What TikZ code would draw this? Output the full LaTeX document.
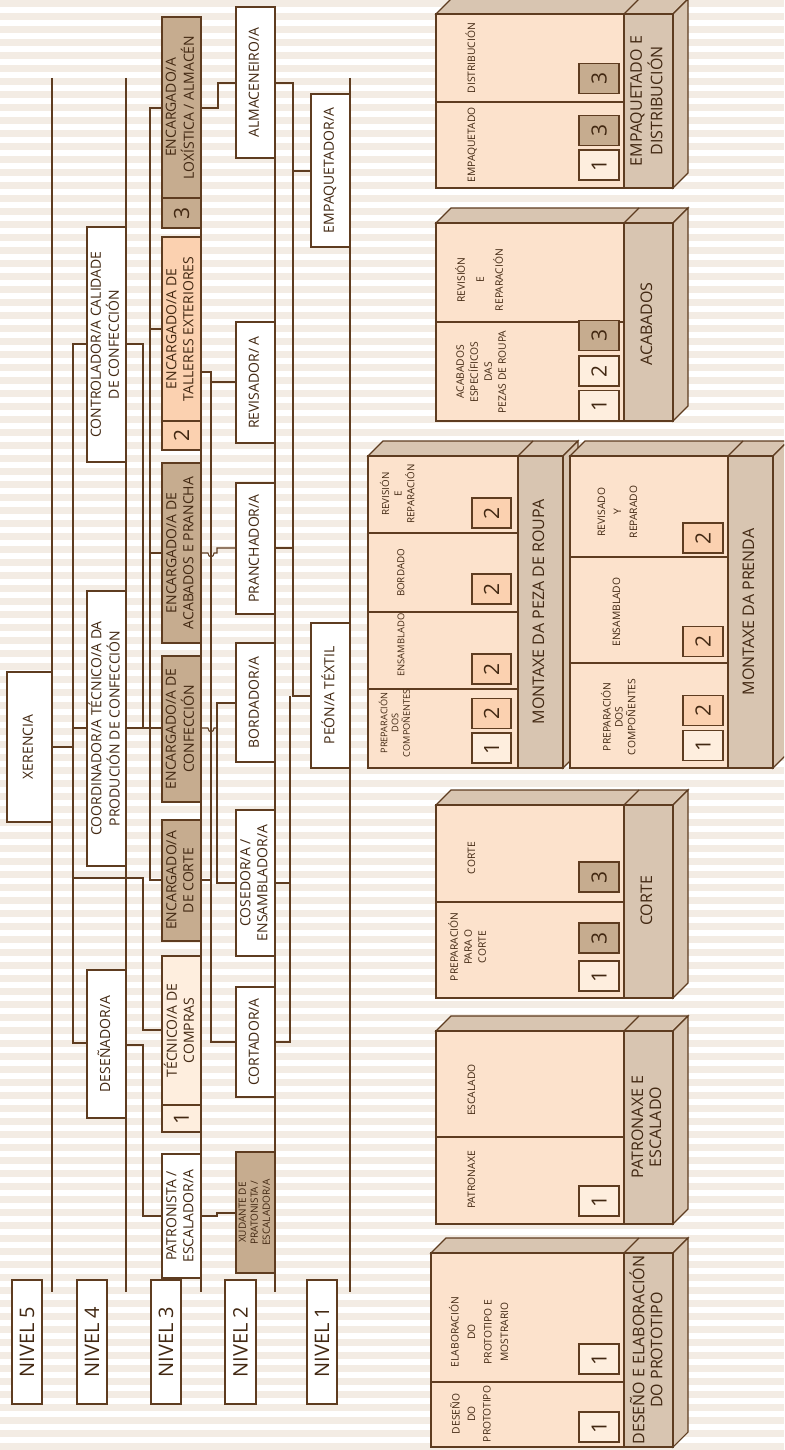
\documentclass[tikz,border=0pt]{standalone}
\usepackage{fontspec}
\setmainfont{Open Sans}
\usepackage{graphicx}
\definecolor{cLine}{RGB}{94,60,32}
\definecolor{cText}{RGB}{66,40,18}
\definecolor{cTan}{RGB}{198,172,143}
\definecolor{cPeach}{RGB}{251,209,176}
\definecolor{cLight}{RGB}{254,238,222}
\definecolor{cPanel}{RGB}{252,226,204}
\definecolor{cSide}{RGB}{216,197,177}
\definecolor{cStripe}{RGB}{243,236,228}
\newcommand{\rtxt}[1]{\rotatebox{90}{\begin{tabular}{@{}c@{}}#1\end{tabular}}}
\newcommand{\rn}[1]{\rotatebox{90}{#1}}
\newcommand{\numfont}{\fontsize{21}{21}\selectfont}
\newcommand{\obox}[7]{\node[#6, minimum width={#4-#2}, minimum height={#5-#3}] (#1) at ({(#2+#4)/2},{(#3+#5)/2}) {#7};}
\newcommand{\pbox}[5]{%
  \filldraw[pb, fill=cSide] (#1,#2) -- ({#1+15},{#2-15}) -- ({#3+15},{#2-15}) -- (#3,#2) -- cycle;
  \filldraw[pb, fill=cSide] (#3,#2) -- ({#3+15},{#2-15}) -- ({#3+15},{#4-15}) -- (#3,#4) -- cycle;
  \draw[pb] (#5,#2) -- ({#5+15},{#2-15});
  \filldraw[pb, fill=cPanel] (#1,#2) rectangle (#5,#4);
  \filldraw[pb, fill=cSide] (#5,#2) rectangle (#3,#4);}
\tikzset{
  ob/.style={draw=cLine, line width=1.1pt, fill=white, inner sep=0pt, outer sep=0pt, text=cText, font=\fontsize{14}{17}\selectfont},
  nv/.style={ob, font=\fontsize{20}{20}\selectfont},
  cn/.style={draw=cLine, line width=1.1pt},
  cnt/.style={draw=cLine, line width=2pt},
  lvline/.style={draw=cLine, line width=1.1pt},
  pb/.style={draw=cLine, line width=1.1pt},
  nb/.style={draw=cLine, line width=1.1pt, minimum width=40, minimum height=30, inner sep=0pt, text=cText, font=\numfont},
  n1/.style={nb, fill=cLight},
  n2/.style={nb, fill=cPeach},
  n3/.style={nb, fill=cTan},
  pt/.style={text=cText, inner sep=0pt, font=\fontsize{10.3}{15}\selectfont},
  pl/.style={text=cText, inner sep=0pt, font=\fontsize{16}{18}\selectfont},
}
\begin{document}
\begin{tikzpicture}[x=1pt,y=-1pt]
\useasboundingbox (0,0) rectangle (784,1450);
\clip (0,0) rectangle (784,1450);
% background stripes
\fill[white] (0,0) rectangle (784,1450);
\foreach \i in {0,...,111} {\fill[cStripe] (0,{\i*13}) rectangle (784,{\i*13+7});}
% level separator lines
\foreach \lx in {52,126,201,275,350} {\draw[lvline] (\lx,78) -- (\lx,1292);}
% ---------- org boxes ----------
\obox{xer}{7}{672}{52}{822}{ob, line width=2pt}{\rtxt{XERENCIA}}
\obox{contr}{87}{227}{126}{462}{ob}{\rtxt{CONTROLADOR/A CALIDADE\\DE CONFECCIÓN}}
\obox{coord}{87}{591}{126}{866}{ob}{\rtxt{COORDINADOR/A TÉCNICO/A DA\\PRODUCIÓN DE CONFECCIÓN}}
\obox{desen}{87}{970}{126}{1118}{ob}{\rtxt{DESEÑADOR/A}}
\obox{loxi}{162}{17}{201}{198}{ob, fill=cTan}{\rtxt{ENCARGADO/A\\LOXÍSTICA / ALMACÉN}}
\obox{loxin}{162}{198}{201}{228}{ob, fill=cTan, font=\numfont}{\rn{3}}
\obox{talle}{162}{237}{201}{421}{ob, fill=cPeach}{\rtxt{ENCARGADO/A DE\\TALLERES EXTERIORES}}
\obox{tallen}{162}{421}{201}{450}{ob, fill=cPeach, font=\numfont}{\rn{2}}
\obox{acab}{162}{463}{201}{643}{ob, fill=cTan}{\rtxt{ENCARGADO/A DE\\ACABADOS E PRANCHA}}
\obox{confe}{162}{656}{201}{802}{ob, fill=cTan}{\rtxt{ENCARGADO/A DE\\CONFECCIÓN}}
\obox{corte}{162}{820}{201}{941}{ob, fill=cTan}{\rtxt{ENCARGADO/A\\DE CORTE}}
\obox{tecn}{162}{956}{201}{1105}{ob, fill=cLight}{\rtxt{TÉCNICO/A DE\\COMPRAS}}
\obox{tecnn}{162}{1105}{201}{1132}{ob, fill=cLight, font=\numfont}{\rn{1}}
\obox{patr}{162}{1154}{201}{1278}{ob}{\rtxt{PATRONISTA /\\ESCALADOR/A}}
\obox{alma}{236}{7}{275}{158}{ob}{\rtxt{ALMACENEIRO/A}}
\obox{revi}{236}{322}{275}{443}{ob}{\rtxt{REVISADOR/ A}}
\obox{pran}{236}{483}{275}{614}{ob}{\rtxt{PRANCHADOR/A}}
\obox{bord}{236}{643}{275}{762}{ob}{\rtxt{BORDADOR/A}}
\obox{cose}{236}{810}{275}{956}{ob}{\rtxt{COSEDOR/A /\\ENSAMBLADOR/A}}
\obox{cort}{236}{987}{275}{1097}{ob}{\rtxt{CORTADOR/A}}
\obox{xuda}{236}{1152}{275}{1273}{ob, fill=cTan, font=\fontsize{10}{12}\selectfont}{\rtxt{XUDANTE DE\\PRATONISTA /\\ESCALADOR/A}}
\obox{empa}{311}{94}{350}{247}{ob}{\rtxt{EMPAQUETADOR/A}}
\obox{peon}{311}{623}{350}{768}{ob}{\rtxt{PEÓN/A TÉXTIL}}
\obox{lv5}{12}{1280}{42}{1404}{nv}{\rn{NIVEL 5}}
\obox{lv4}{77}{1280}{107}{1404}{nv}{\rn{NIVEL 4}}
\obox{lv3}{151}{1280}{181}{1404}{nv}{\rn{NIVEL 3}}
\obox{lv2}{225}{1280}{256}{1404}{nv}{\rn{NIVEL 2}}
\obox{lv1}{307}{1280}{337}{1404}{nv}{\rn{NIVEL 1}}
% ---------- connectors ----------
\draw[cnt] (xer.east |- 0,747) -- (73,747);
\draw[cn] (contr.west |- 0,344) -- (73,344) -- (73,1043) -- (desen.west |- 0,1043);
\draw[cn] (73,728) -- (coord.west |- 0,728);
\draw[cn] (73,878) -- (143,878) -- (143,1030) -- (tecn.west |- 0,1030);
\draw[cn] (desen.east |- 0,1045) -- (143,1045) -- (143,1216) -- (patr.west |- 0,1216);
\draw[cn] (contr.east |- 0,344) -- (143,344) -- (143,728);
\draw[cnt] (coord.east |- 0,728) -- (150,728);
\draw[cn] (150,728) -- (confe.west |- 0,728);
\draw[cn] (loxi.west |- 0,108) -- (150,108) -- (150,880) -- (corte.west |- 0,880);
\draw[cn] (150,329) -- (talle.west |- 0,329);
\draw[cn] (150,553) -- (acab.west |- 0,553);
\draw[cn] (loxi.east |- 0,108) -- (218,108) -- (218,83) -- (alma.west |- 0,83);
\draw[cn] (talle.east |- 0,372) -- (211,372) -- (211,1042) -- (cort.west |- 0,1042);
\draw[cn] (211,382) -- (revi.west |- 0,382);
\draw[cn] (corte.east |- 0,880) -- (211,880);
\draw[cn] (acab.east |- 0,553) -- (208,553) .. controls (208,558) and (214,558) .. (214,553) -- (217,553) -- (217,548) -- (pran.west |- 0,548);
\draw[cn] (confe.east |- 0,728) -- (208,728) .. controls (208,733) and (214,733) .. (214,728) -- (217,728);
\draw[cn] (bord.west |- 0,703) -- (217,703) -- (217,883) -- (cose.west |- 0,883);
\draw[cn] (patr.east |- 0,1216) -- (217,1216) -- (217,1213) -- (xuda.west |- 0,1213);
\draw[cn] (alma.east |- 0,83) -- (293,83) -- (293,696) -- (peon.west |- 0,696);
\draw[cn] (290,696) -- (290,1042) -- (cort.east |- 0,1042);
\draw[cn] (293,171) -- (empa.west |- 0,171);
\draw[cn] (pran.east |- 0,548) -- (293,548);
\draw[cn] (cose.east |- 0,883) -- (290,883);
% ---------- process boxes ----------
% Empaquetado e distribucion
\pbox{436}{14}{673}{188}{624}
\draw[pb] (436,102) -- (624,102);
\node[pt] (tdist) at (472,58) {\rtxt{DISTRIBUCIÓN}};
\node[pt] (tempa) at (472,145) {\rtxt{EMPAQUETADO}};
\node[n3] (e3a) at (599,78.5) {\rn{3}};
\node[n3] (e3b) at (599,130.5) {\rn{3}};
\node[n1] (e1) at (599,165) {\rn{1}};
\node[pl] (lempa) at (648.5,101) {\rtxt{EMPAQUETADO E\\DISTRIBUCIÓN}};
% Acabados
\pbox{436}{223}{673}{421}{624}
\draw[pb] (436,322) -- (624,322);
\node[pt, font=\fontsize{10.3}{19}\selectfont] (trev) at (480,280) {\rtxt{REVISIÓN\\E\\REPARACIÓN}};
\node[pt, font=\fontsize{10.3}{14}\selectfont] (tacesp) at (482,372) {\rtxt{ACABADOS\\ESPECÍFICOS\\DAS\\PEZAS DE ROUPA}};
\node[n3] (a3) at (599,335.5) {\rn{3}};
\node[n1] (a2) at (599,371) {\rn{2}};
\node[n1] (a1) at (599,405.5) {\rn{1}};
\node[pl] (lacab) at (648.5,324) {\rtxt{ACABADOS}};
% Montaxe da peza de roupa
\pbox{368}{456}{563}{768}{518}
\draw[pb] (368,533) -- (518,533);
\draw[pb] (368,612) -- (518,612);
\draw[pb] (368,689) -- (518,689);
\node[pt, font=\fontsize{9.8}{12.5}\selectfont] (tprev) at (399,494) {\rtxt{REVISIÓN\\E\\REPARACIÓN}};
\node[pt, font=\fontsize{9.8}{12}\selectfont] (tpbord) at (402,573) {\rtxt{BORDADO}};
\node[pt, font=\fontsize{9.4}{12}\selectfont] (tpens) at (402,645) {\rtxt{ENSAMBLADO}};
\node[pt, font=\fontsize{9.2}{11}\selectfont] (tpprep) at (396,723) {\rtxt{PREPARACIÓN\\DOS\\COMPOÑENTES}};
\node[n2, minimum width=39] (p2a) at (491.5,513) {\rn{2}};
\node[n2, minimum width=39] (p2b) at (491.5,589) {\rn{2}};
\node[n2, minimum width=39] (p2c) at (491.5,669) {\rn{2}};
\node[n2, minimum width=39] (p2d) at (491.5,713.5) {\rn{2}};
\node[n1, minimum width=39] (p1) at (491.5,748) {\rn{1}};
\node[pl] (lpeza) at (540.5,612) {\rtxt{MONTAXE DA PEZA DE ROUPA}};
% Montaxe da prenda
\pbox{570}{456}{773}{768}{728}
\draw[pb] (570,557) -- (728,557);
\draw[pb] (570,663) -- (728,663);
\node[pt, font=\fontsize{10.3}{16}\selectfont] (trrev) at (618,512) {\rtxt{REVISADO\\Y\\REPARADO}};
\node[pt] (trens) at (617,612) {\rtxt{ENSAMBLADO}};
\node[pt, font=\fontsize{10.3}{12}\selectfont] (trprep) at (620,717) {\rtxt{PREPARACIÓN\\DOS\\COMPOÑENTES}};
\node[n2] (r2a) at (703,538) {\rn{2}};
\node[n2] (r2b) at (703,641.5) {\rn{2}};
\node[n2] (r2c) at (703,710.5) {\rn{2}};
\node[n1] (r1) at (703,745.5) {\rn{1}};
\node[pl] (lprenda) at (750.5,612) {\rtxt{MONTAXE DA PRENDA}};
% Corte
\pbox{436}{805}{673}{998}{624}
\draw[pb] (436,902) -- (624,902);
\node[pt] (tcorte) at (472,858) {\rtxt{CORTE}};
\node[pt, font=\fontsize{10.3}{14}\selectfont] (tcprep) at (469,947) {\rtxt{PREPARACIÓN\\PARA O\\CORTE}};
\node[n3] (c3a) at (599,877) {\rn{3}};
\node[n3] (c3b) at (599,938) {\rn{3}};
\node[n1] (c1) at (599,976) {\rn{1}};
\node[pl] (lcorte) at (648.5,901) {\rtxt{CORTE}};
% Patronaxe e escalado
\pbox{436}{1031}{673}{1224}{624}
\draw[pb] (436,1137) -- (624,1137);
\node[pt] (tesc) at (472,1090) {\rtxt{ESCALADO}};
\node[pt] (tpat) at (472,1180) {\rtxt{PATRONAXE}};
\node[n1] (pa1) at (599,1201) {\rn{1}};
\node[pl] (lpatr) at (648.5,1127) {\rtxt{PATRONAXE E\\ESCALADO}};
% Deseno e elaboracion do prototipo
\pbox{431}{1253}{673}{1447}{624}
\draw[pb] (431,1382) -- (624,1382);
\node[pt, font=\fontsize{10.3}{16.5}\selectfont] (telab) at (480,1332) {\rtxt{ELABORACIÓN\\DO\\PROTOTIPO E\\MOSTRARIO}};
\node[pt, font=\fontsize{10.3}{15.5}\selectfont] (tdes) at (472,1414) {\rtxt{DESEÑO\\DO\\PROTOTIPO}};
\node[n1] (d1a) at (599,1359) {\rn{1}};
\node[n1] (d1b) at (599,1427) {\rn{1}};
\node[pl] (ldes) at (648.5,1350) {\rtxt{DESEÑO E ELABORACIÓN\\DO PROTOTIPO}};
\end{tikzpicture}
\end{document}
